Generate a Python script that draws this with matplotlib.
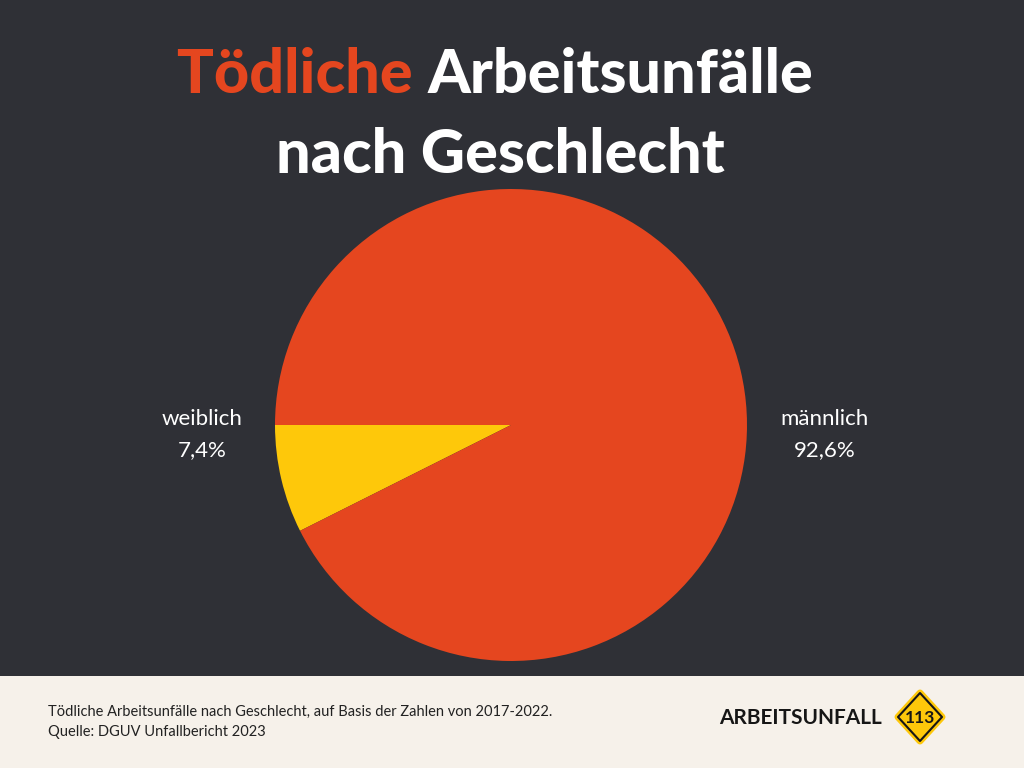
import matplotlib
matplotlib.use("Agg")
import matplotlib.pyplot as plt
from matplotlib.patches import Rectangle, Polygon

# ---- data ----
labels = ["weiblich", "männlich"]
shares = [7.4, 92.6]
share_text = ["7,4%", "92,6%"]

# ---- theme ----
BG = "#2f3036"
FOOTER = "#f6f1ea"
ORANGE = "#e5461f"
YELLOW = "#fec80a"
WHITE = "#ffffff"
INK = "#161616"
FONT = "Lato"

fig = plt.figure(figsize=(10.24, 7.68), dpi=100, facecolor=BG)

# footer band
fig.patches.append(Rectangle((0, 0), 1, 92 / 768, transform=fig.transFigure,
                             facecolor=FOOTER, edgecolor="none", zorder=0))

# ---- pie ----
ax = fig.add_axes([275 / 1024, 107 / 768, 472 / 1024, 472 / 768])
ax.set_facecolor(BG)
ax.pie(shares, colors=[YELLOW, ORANGE], startangle=180, counterclock=True,
       radius=1, wedgeprops={"linewidth": 0})
ax.set_xlim(-1, 1)
ax.set_ylim(-1, 1)
ax.set_aspect("equal")
ax.axis("off")

# side labels
for x, lab, val in [(-1.31, labels[0], share_text[0]), (1.33, labels[1], share_text[1])]:
    ax.text(x, 0.025, lab, ha="center", va="center", fontsize=16, color=WHITE, family=FONT)
    ax.text(x, -0.105, val, ha="center", va="center", fontsize=16, color=WHITE, family=FONT)

# ---- title (two colours on the first line) ----
fig.canvas.draw()
r = fig.canvas.get_renderer()
title_kw = dict(fontsize=44, fontweight="black", family=FONT, va="baseline")
t1 = fig.text(0, 0, "Tödliche ", color=ORANGE, **title_kw)
t2 = fig.text(0, 0, "Arbeitsunfälle", color=WHITE, **title_kw)
w1 = t1.get_window_extent(r).width
w2 = t2.get_window_extent(r).width
cx = 495
x0 = cx - (w1 + w2) / 2
y1 = 1 - 93 / 768
t1.set_position((x0 / 1024, y1))
t2.set_position(((x0 + w1) / 1024, y1))
fig.text(500 / 1024, 1 - 173 / 768, "nach Geschlecht", color=WHITE, ha="center", **title_kw)

# ---- footer text ----
fig.text(48 / 1024, 1 - 712 / 768,
         "Tödliche Arbeitsunfälle nach Geschlecht, auf Basis der Zahlen von 2017-2022.",
         fontsize=10.5, color="#222222", family=FONT, va="center")
fig.text(48 / 1024, 1 - 732 / 768, "Quelle: DGUV Unfallbericht 2023",
         fontsize=10.5, color="#222222", family=FONT, va="center")

# ---- logo ----
fig.text(882 / 1024, 1 - 718 / 768, "ARBEITSUNFALL", fontsize=15, fontweight="bold",
         color=INK, family=FONT, ha="right", va="center")


def diamond(cx, cy, hw, hh, **kw):
    pts = [((cx - hw) / 1024, 1 - cy / 768), (cx / 1024, 1 - (cy - hh) / 768),
           ((cx + hw) / 1024, 1 - cy / 768), (cx / 1024, 1 - (cy + hh) / 768)]
    return Polygon(pts, closed=True, transform=fig.transFigure, joinstyle="round", **kw)


lx, ly = 920, 717
fig.patches.append(diamond(lx, ly, 22, 24, facecolor=YELLOW, edgecolor=YELLOW,
                           linewidth=5, zorder=2))
fig.patches.append(diamond(lx, ly, 22, 24, facecolor="none", edgecolor=INK,
                           linewidth=1.5, zorder=3))
fig.text(lx / 1024, 1 - (ly + 1) / 768, "113", fontsize=12.5, fontweight="bold", color=INK,
         family=FONT, ha="center", va="center", zorder=4)

fig.savefig("out.png", dpi=100, facecolor=BG)
